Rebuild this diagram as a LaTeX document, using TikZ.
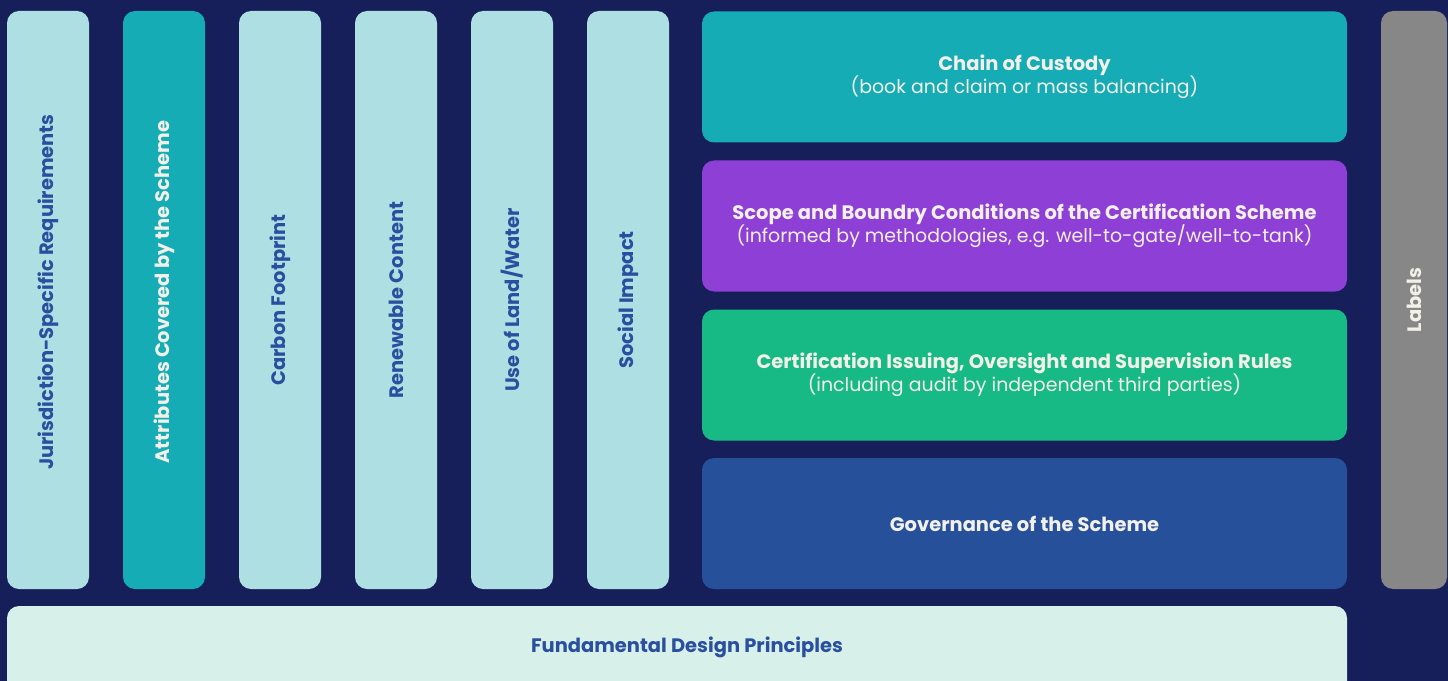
\documentclass[tikz,border=0pt]{standalone}
\usepackage{fontspec}
\setmainfont{Poppins}
\definecolor{navy}{HTML}{171F5B}
\definecolor{iceblue}{HTML}{AEDFE3}
\definecolor{teal}{HTML}{15ACB5}
\definecolor{violet}{HTML}{8E3FD6}
\definecolor{emerald}{HTML}{17BA85}
\definecolor{cobalt}{HTML}{26519A}
\definecolor{slate}{HTML}{878787}
\definecolor{mint}{HTML}{D7F0E9}
\definecolor{ink}{HTML}{2A4F9E}
\definecolor{cream}{HTML}{F3F0EA}

\begin{document}
\begin{tikzpicture}[x=0.75pt,y=-0.75pt]

        \fill[navy] (0,0) rectangle (1448,681);
        \useasboundingbox (0,0) rectangle (1448,681);
        \clip (0,0) rectangle (1448,681);

        % vertical columns
        \begin{scope}[every node/.style={rotate=90, rounded corners=9pt, inner sep=0pt,
            minimum width=433.5pt, minimum height=61.5pt, fill=iceblue, text=ink,
            font=\bfseries\fontsize{14.6}{17}\selectfont}]
          \node (c1) at (48,300)  {\hspace*{12pt}Jurisdiction-Specific Requirements};
          \node[fill=teal, text=cream] (c2) at (164,300) {\hspace*{12pt}Attributes Covered by the Scheme};
          \node (c3) at (280,300) {Carbon Footprint};
          \node (c4) at (396,300) {Renewable Content};
          \node (c5) at (512,300) {Use of Land/Water};
          \node (c6) at (628,300) {Social Impact};
          \node[fill=slate, text=cream, minimum height=49.5pt] (lab) at (1414,300) {Labels};
        \end{scope}

        % scheme layers
        \begin{scope}[every node/.style={rounded corners=9pt, inner sep=0pt, align=center,
            minimum width=483.75pt, minimum height=98.25pt, text=cream,
            font=\fontsize{14.2}{17.3}\selectfont}]
          \node[fill=teal] (r1) at (1024.5,77)
            {{\fontsize{14.6}{17.3}\selectfont\bfseries Chain of Custody}\\(book and claim or mass balancing)};
          \node[fill=violet] (r2) at (1024.5,226)
            {{\fontsize{14.6}{17.3}\selectfont\bfseries Scope and Boundry Conditions of the Certification Scheme}\\(informed by methodologies, e.g. well-to-gate/well-to-tank)};
          \node[fill=emerald] (r3) at (1024.5,375)
            {{\fontsize{14.6}{17.3}\selectfont\bfseries Certification Issuing, Oversight and Supervision Rules}\\(including audit by independent third parties)};
          \node[fill=cobalt] (r4) at (1024.5,523.5)
            {{\fontsize{14.6}{17.3}\selectfont\bfseries Governance of the Scheme}};
        \end{scope}

        % foundation
        \begin{scope}[every node/.style={rounded corners=9pt, inner sep=0pt}]
          \fill[mint, rounded corners=9pt] (7,606) rectangle (1347,720);
          \node[text=ink, font=\bfseries\fontsize{14.6}{17}\selectfont] (base) at (687,647) {Fundamental Design Principles};
        \end{scope}

      \end{tikzpicture}
\end{document}
